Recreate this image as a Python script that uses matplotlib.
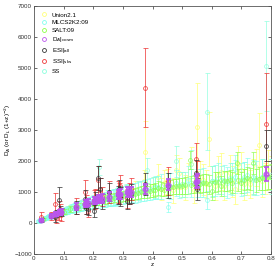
import matplotlib
matplotlib.use("Agg")
import matplotlib.pyplot as plt
from matplotlib.lines import Line2D

plt.rcParams['font.family'] = ['Liberation Sans', 'DejaVu Sans']

# ---------------- data ----------------
union_z = [0.02,0.04,0.06,0.09,0.12,0.16,0.2,0.24,0.28,0.31,0.34,0.37,0.375,0.40,0.42,0.43,0.45,0.47,0.49,0.5,0.52,0.54,0.55,0.56,0.58,0.59,0.6,0.62,0.64,0.66,0.68,0.7,0.72,0.73,0.75,0.76,0.78,0.8,
           0.44,0.48,0.51,0.53,0.57,0.61,0.63,0.67,0.69,0.71,0.74,0.77,0.79]
union_d = [90,170,240,350,470,580,690,800,880,960,1050,1350,2300,1200,1500,1100,1350,1050,1600,1250,1450,1050,3100,1500,1250,2700,1350,1550,1200,1600,1100,1700,1400,1250,1800,2520,1450,1550,
           1300,1700,1150,1900,1400,1200,1650,1350,1900,1250,1500,1350,1700]
union_e = [40,60,80,100,120,150,150,200,200,250,300,350,1000,300,400,350,400,400,500,400,500,400,1420,500,450,870,500,600,450,600,500,600,500,450,600,1030,500,600,
           400,500,400,550,500,450,600,500,600,500,550,500,650]

mlcs_z = [0.015,0.02,0.025,0.03,0.035,0.04,0.045,0.05,0.055,0.06,0.065,0.07,0.08,0.09,0.1,0.11,0.12,0.13,0.14,0.15,0.16,0.17,0.18,0.19,0.2,0.21,0.23,0.24,0.25,0.26,0.27,0.28,0.3,0.32,0.34,0.36,0.38,0.40,0.42,0.452,0.48,0.5,0.52,0.55,0.583,0.6,0.62,0.65,0.68,0.7,0.72,0.75,0.8,
          0.018,0.022,0.028,0.033,0.038,0.043,0.048,0.052,0.058,0.063,0.068,0.075,0.085,0.095,0.105,0.115,0.125,0.135,0.145,0.155,0.165,0.175,0.185,0.195,0.205,0.215,0.225,0.235,0.245,0.255,0.265,0.275,0.285,0.295,0.31,0.33,0.35,0.37,0.39,0.41,0.43,0.46,0.49,0.53,0.57,0.61,0.64,0.67,0.71,0.74,0.77]
mlcs_d = [70,80,105,120,140,160,180,200,215,235,250,270,300,340,380,410,440,470,500,540,560,600,630,650,680,710,740,770,790,820,840,860,900,950,980,1030,1080,1120,1150,515,1300,1250,1400,1300,740,1350,1450,1300,1500,1400,1550,1450,1500,
          60,100,110,150,150,185,190,230,220,260,260,300,320,380,390,430,470,490,520,560,590,610,650,660,700,690,760,750,810,800,850,830,880,910,930,980,1000,1050,1100,1150,1180,1200,1230,1280,1320,1370,1380,1420,1430,1480,1490]
mlcs_e = [30,30,40,40,50,50,60,60,70,70,80,80,90,100,110,120,130,140,150,160,170,180,190,200,200,220,230,240,250,260,270,280,300,300,320,330,350,360,380,150,420,400,450,450,300,480,500,500,520,520,550,550,580,
          30,35,40,45,50,55,60,65,70,75,80,85,95,105,115,120,130,140,150,160,170,175,185,195,200,210,220,230,240,250,260,270,280,290,300,310,330,350,360,380,390,410,430,450,470,490,500,510,530,540,560]

salt_z = [0.03,0.06,0.1,0.15,0.2,0.22,0.25,0.27,0.3,0.32,0.34,0.36,0.38,0.4,0.42,0.44,0.46,0.48,0.5,0.527,0.53,0.55,0.57,0.59,0.6,0.61,0.64,0.66,0.685,0.7,0.71,0.72,0.74,0.75,0.77,0.79,0.8,
          0.12,0.17,0.21,0.24,0.26,0.29,0.31,0.33,0.35,0.37,0.39,0.41,0.43,0.45,0.47,0.49,0.51,0.54,0.56,0.58,0.62,0.63,0.65,0.67,0.69,0.73,0.76,0.78]
salt_d = [130,230,370,530,660,720,780,820,870,900,940,990,1000,1050,1120,1080,1150,1180,1200,2030,1240,1280,1300,1250,1040,1320,1350,1380,1940,1300,1400,1450,1940,1380,1460,1480,1500,
          450,600,700,760,800,850,890,920,960,1000,1040,1080,1100,1130,1170,1190,1220,1260,1270,1290,1330,1200,1360,1300,1390,1420,1430,1470]
salt_e = [40,60,80,100,120,130,140,150,160,170,180,190,200,200,220,220,240,250,260,300,270,280,290,300,300,310,320,330,350,340,350,360,350,370,380,390,400,
          90,110,130,140,150,160,170,180,190,200,210,220,230,240,250,260,270,280,290,300,310,320,330,340,350,370,380,390]

cl_z = [0.023,0.058,0.072,0.074,0.084,0.088,0.091,0.142,0.171,0.176,0.182,0.202,0.206,0.217,0.224,0.229,0.252,0.282,0.288,0.291,0.313,0.322,0.327,0.375,0.451,0.546,0.550,0.784]
esi_d = [100,250,180,300,740,400,350,500,780,500,450,380,750,1450,1100,700,1000,900,1100,850,700,900,950,1260,1200,1620,1100,2490]
esi_e = [60,80,150,120,420,150,120,200,300,200,200,200,250,400,350,250,300,300,300,300,250,300,300,350,400,400,350,500]
ssi_d = [200,220,620,150,400,450,250,550,1000,600,400,750,800,1400,1050,850,1000,1000,950,1200,800,950,1100,4360,1350,2070,1550,3200]
ssi_e = [140,120,350,150,300,150,200,250,400,300,200,300,300,450,400,300,350,350,350,350,300,350,350,1270,450,500,450,1650]
da_d = [100,240,290,300,340,350,360,530,620,640,660,720,730,760,780,790,850,920,930,940,990,1000,1010,1100,1230,1330,1370,1580]
da_e = [30,60,70,70,80,80,80,100,110,110,120,120,120,130,130,130,140,150,150,150,160,160,160,170,180,200,200,220]

ss_z = [0.02,0.05,0.08,0.11,0.14,0.17,0.2,0.22,0.25,0.28,0.31,0.35,0.38,0.41,0.45,0.48,0.51,0.53,0.56,0.583,0.6,0.63,0.66,0.68,0.71,0.74,0.77,0.784,0.8]
ss_d = [90,210,310,420,520,620,700,1800,800,870,950,1050,1700,1150,1200,2000,1250,1900,1300,3590,1350,1400,1450,1750,1480,1400,1500,5070,1550]
ss_e = [60,80,100,120,150,150,200,250,250,250,300,300,400,350,400,500,400,450,450,1250,500,450,500,450,500,500,550,1450,500]

labels = ['Union2.1', 'MLCS2K2:09', 'SALT:09', 'D$_A$|$_{\\rm cosm}$',
          'ESI|$_{\\rm all}$', 'SSI|$_{\\rm sks}$', 'SS']
colors = ['#ffff77', '#80ffee', '#88ff44', '#bb55ee', '#333333', '#ee3333', '#88ffdd']

# ---------------- figure ----------------
fig = plt.figure(figsize=(2.77, 2.71), dpi=100)
ax = fig.add_axes([34/277, 17/271, 237/277, 248/271])

def eb(z, d, e, c, zo, alpha=1.0, lw=0.6, ms=2.8):
    ax.errorbar(z, d, yerr=e, fmt='o', ms=ms, mfc='none', mec=c, mew=lw,
                ecolor=c, elinewidth=lw, capsize=1.8, capthick=lw,
                zorder=zo, alpha=alpha)

eb(union_z, union_d, union_e, colors[0], 2, 0.85)
eb(mlcs_z, mlcs_d, mlcs_e, colors[1], 3, 0.75)
eb(salt_z, salt_d, salt_e, colors[2], 4, 0.75)
eb(ss_z, ss_d, ss_e, colors[6], 3, 0.75)
eb(cl_z, ssi_d, ssi_e, colors[5], 6, 0.85)
eb(cl_z, esi_d, esi_e, colors[4], 7, 0.85)
eb(cl_z, da_d, da_e, colors[3], 8, 0.9, lw=1.4, ms=3.0)

ax.set_xlim(0, 0.8)
ax.set_ylim(-1000, 7000)
ax.set_xticks([0, 0.1, 0.2, 0.3, 0.4, 0.5, 0.6, 0.7, 0.8])
ax.set_xticklabels(['0', '0.1', '0.2', '0.3', '0.4', '0.5', '0.6', '0.7', '0.8'])
ax.set_yticks(range(-1000, 7001, 1000))
ax.tick_params(direction='in', length=2, width=0.5, labelsize=4.5, pad=1.5,
               top=True, right=True, colors='#333333')
for s in ax.spines.values():
    s.set_linewidth(0.6)
    s.set_color('#555555')
ax.set_xlabel('z', fontsize=4.5, labelpad=1)
ax.set_ylabel('D$_A$ (or D$_L$ (1+z)$^{-2}$)', fontsize=4.5, labelpad=1)

handles = [Line2D([], [], ls='none', marker='o', ms=2.8, mfc='none', mec=c, mew=0.6)
           for c in colors]
ax.legend(handles, labels, loc='upper left', frameon=False, fontsize=4.5,
          handletextpad=0.6, labelspacing=0.35, borderaxespad=0.6,
          handlelength=1.2)

fig.savefig('out.png', dpi=100)
